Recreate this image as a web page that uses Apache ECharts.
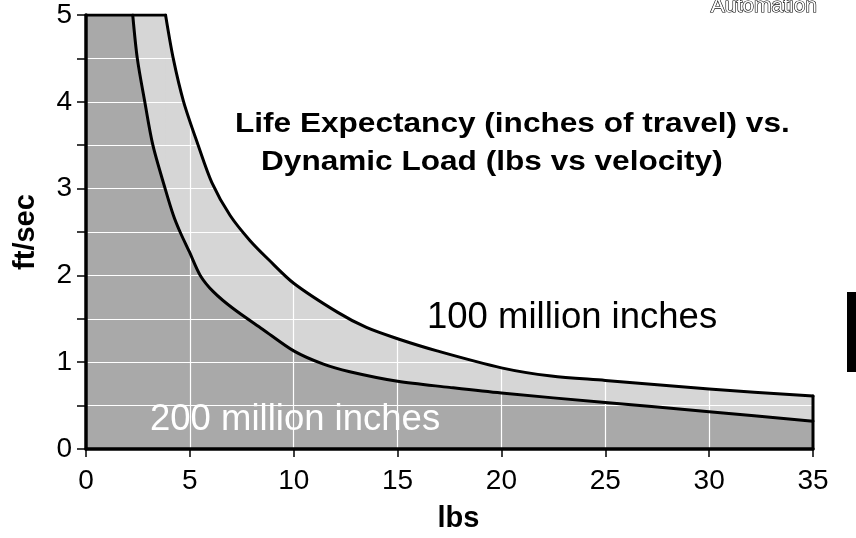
<!DOCTYPE html>
<html>
<head>
<meta charset="utf-8">
<script src="https://cdn.jsdelivr.net/npm/echarts@6/dist/echarts.min.js"></script>
<style>
  html, body { margin: 0; padding: 0; background: #fff; }
  #chart { width: 856px; height: 538px; }
</style>
</head>
<body>
<div id="chart"></div>
<script>
// load in lbs vs velocity in ft/sec
var lbs100 = [0, 3.83, 4.2, 4.7, 5.4, 6.06, 6.94, 7.9, 8.8, 10.0, 12.1, 13.5, 15, 16.9, 20, 22.4, 25, 30, 35];
var fps100 = [5, 5, 4.5, 4.0, 3.5, 3.07, 2.69, 2.40, 2.18, 1.91, 1.577, 1.40, 1.27, 1.13, 0.935, 0.84, 0.79, 0.69, 0.61];

var lbs200 = [0, 2.25, 2.47, 2.83, 3.22, 3.81, 4.21, 4.53, 4.98, 5.5, 6.14, 7.1, 8.5, 10, 11.4, 12.7, 15, 17.5, 20, 25, 30, 35];
var fps200 = [5, 5, 4.5, 4.0, 3.5, 3.0, 2.69, 2.5, 2.27, 2.0, 1.81, 1.615, 1.38, 1.13, 0.98, 0.89, 0.78, 0.71, 0.645, 0.535, 0.43, 0.32];

var xMax = 35, yMax = 5;

function pairs(xs, ys) {
    return xs.map(function (x, i) { return [x, ys[i]]; });
}

var font = '"Liberation Sans", Arial, Helvetica, sans-serif';
var d100 = pairs(lbs100, fps100);
var d200 = pairs(lbs200, fps200);

// flat top part up to the corner (filled a hair wider so no seam shows),
// and the curve from the corner on, so the corner stays sharp
function topPart(d) {
    return [d[0], [d[1][0] + 0.04, d[1][1]]];
}
var curve100 = d100.slice(1), curve200 = d200.slice(1);
var last = d100[d100.length - 1];
var edge = [[last[0], 0], last];

function fill(data, color, smooth) {
    return {
        type: 'line', data: data, z: 1, symbol: 'none', smooth: smooth,
        lineStyle: { width: 0 },
        areaStyle: { color: color, opacity: 1 }
    };
}
function stroke(data, smooth) {
    return {
        type: 'line', data: data, z: 5, symbol: 'none', smooth: smooth,
        lineStyle: { color: '#000', width: 3, cap: 'round', join: 'round' }
    };
}

var myChart = echarts.init(document.getElementById('chart'));

var option = {
    animation: false,
    backgroundColor: '#fff',
    grid: { left: 86, right: 43, top: 15, bottom: 88 },
    xAxis: {
        type: 'value', min: 0, max: xMax, interval: 5, z: 3,
        name: 'lbs', nameLocation: 'middle', nameGap: 55,
        nameTextStyle: { fontFamily: font, fontWeight: 'bold', fontSize: 29, color: '#000', padding: [0, 0, 0, 18] },
        axisLine: { lineStyle: { color: '#000', width: 3.5 } },
        axisTick: { length: 8, lineStyle: { color: '#000', width: 1.5 } },
        axisLabel: { fontFamily: font, fontSize: 28, color: '#000', margin: 18 },
        splitLine: { show: true, lineStyle: { color: '#fff', width: 1.2 } }
    },
    yAxis: {
        type: 'value', min: 0, max: yMax, interval: 1, z: 3,
        name: 'ft/sec', nameLocation: 'middle', nameGap: 46,
        nameTextStyle: { fontFamily: font, fontWeight: 'bold', fontSize: 29, color: '#000' },
        axisLine: { show: true, lineStyle: { color: '#000', width: 3.5 } },
        axisTick: { show: true, length: 9, lineStyle: { color: '#000', width: 1.5 } },
        minorTick: { show: true, splitNumber: 2, length: 9, lineStyle: { color: '#000', width: 1.5 } },
        axisLabel: { fontFamily: font, fontSize: 28, color: '#000', margin: 14 },
        splitLine: { show: true, lineStyle: { color: '#fff', width: 1.2 } },
        minorSplitLine: { show: true, lineStyle: { color: '#fff', width: 1.2 } }
    },
    series: [
        fill(topPart(d100), '#d6d6d6', false),
        fill(curve100, '#d6d6d6', 0.3),
        fill(topPart(d200), '#a9a9a9', false),
        fill(curve200, '#a9a9a9', 0.3),
        stroke(d100.slice(0, 2), false),
        stroke(curve100, 0.3),
        stroke(curve200, 0.3),
        stroke(edge, false)
    ],
    graphic: [
        {
            type: 'text', x: 235, y: 125, scaleX: 1.17, z: 10,
            style: {
                text: 'Life Expectancy (inches of travel) vs.',
                fontFamily: font, fontWeight: 'bold', fontSize: 27, fill: '#000',
                align: 'left', verticalAlign: 'middle'
            }
        },
        {
            type: 'text', x: 261, y: 163, scaleX: 1.17, z: 10,
            style: {
                text: 'Dynamic Load (lbs vs velocity)',
                fontFamily: font, fontWeight: 'bold', fontSize: 27, fill: '#000',
                align: 'left', verticalAlign: 'middle'
            }
        },
        {
            type: 'text', x: 427, y: 318, z: 10,
            style: {
                text: '100 million inches',
                fontFamily: font, fontSize: 36.5, fill: '#000',
                align: 'left', verticalAlign: 'middle'
            }
        },
        {
            type: 'text', x: 150, y: 420, z: 10,
            style: {
                text: '200 million inches',
                fontFamily: font, fontSize: 36.5, fill: '#fff',
                align: 'left', verticalAlign: 'middle'
            }
        },
        {
            type: 'text', x: 817, y: 17, z: 10,
            style: {
                text: 'Automation',
                fontFamily: font, fontSize: 21, fill: '#fff', stroke: '#000', lineWidth: 1.2,
                align: 'right', verticalAlign: 'bottom'
            }
        },
        {
            type: 'rect', z: 10,
            shape: { x: 847, y: 292, width: 9, height: 80 },
            style: { fill: '#000' }
        }
    ]
};

myChart.setOption(option);
</script>
</body>
</html>
